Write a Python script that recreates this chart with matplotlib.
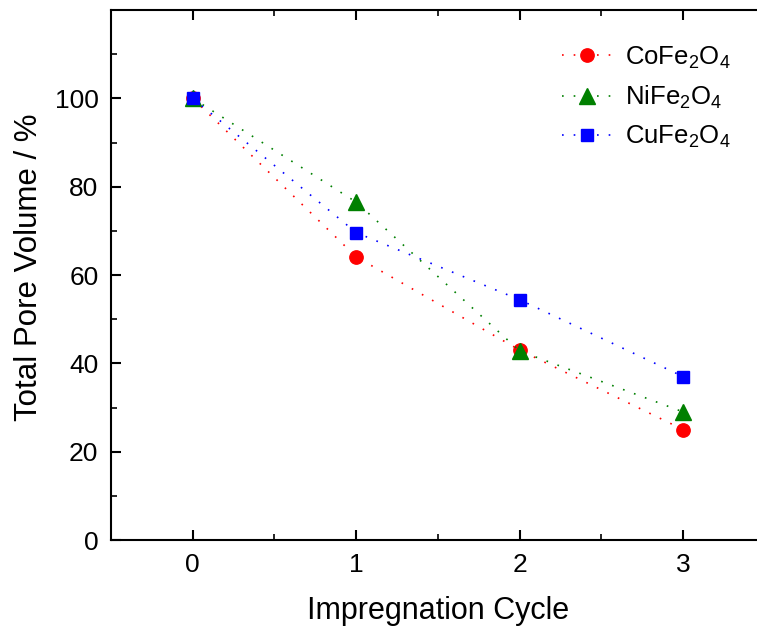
import matplotlib.pyplot as plt
from matplotlib.ticker import MultipleLocator

plt.rcParams["font.family"] = ["Liberation Sans", "DejaVu Sans"]
plt.rcParams["mathtext.default"] = "regular"

# Data
cycles = [0, 1, 2, 3]
co_fe2o4 = [100, 64.1, 43.0, 25.0]
ni_fe2o4 = [100, 76.5, 42.8, 29.0]
cu_fe2o4 = [100, 69.6, 54.4, 37.0]

fig = plt.figure(figsize=(7.57, 6.35), dpi=100)
# right edge of the axes lies just beyond the figure, as in the reference
ax = fig.add_axes([0.1466, 0.1496, 0.8639, 0.8346])

dots = (0, (1, 6))
ax.plot(cycles, co_fe2o4, linestyle=dots, color="red", marker="o", ms=9.6,
        lw=1.2, label="CoFe$_2$O$_4$")
ax.plot(cycles, ni_fe2o4, linestyle=dots, color="green", marker="^", ms=11,
        lw=1.2, label="NiFe$_2$O$_4$")
ax.plot(cycles, cu_fe2o4, linestyle=dots, color="blue", marker="s", ms=8.6,
        lw=1.2, label="CuFe$_2$O$_4$")

ax.set_xlim(-0.5, 3.5)
ax.set_ylim(0, 120)
ax.set_xticks(cycles)
ax.set_yticks([0, 20, 40, 60, 80, 100])
ax.xaxis.set_minor_locator(MultipleLocator(0.5))
ax.yaxis.set_minor_locator(MultipleLocator(10))
ax.tick_params(which="both", direction="in", top=True, right=False)
ax.tick_params(which="major", length=7.5, width=1.5, labelsize=19, pad=9)
ax.tick_params(which="minor", length=4, width=1.2)

ax.spines["right"].set_visible(False)
for side in ["top", "left", "bottom"]:
    ax.spines[side].set_linewidth(1.5)

ax.set_xlabel("Impregnation Cycle", fontsize=22, labelpad=14)
ax.set_ylabel("Total Pore Volume / %", fontsize=22.5)
ax.yaxis.set_label_coords(-0.102, 0.515)

ax.legend(loc="upper left", bbox_to_anchor=(0.7424, 0.93),
          bbox_transform=fig.transFigure, frameon=False, borderpad=0,
          borderaxespad=0, fontsize=18.5, handlelength=1.95,
          handletextpad=0.5, labelspacing=0.5)

fig.savefig("out.png", dpi=100)
